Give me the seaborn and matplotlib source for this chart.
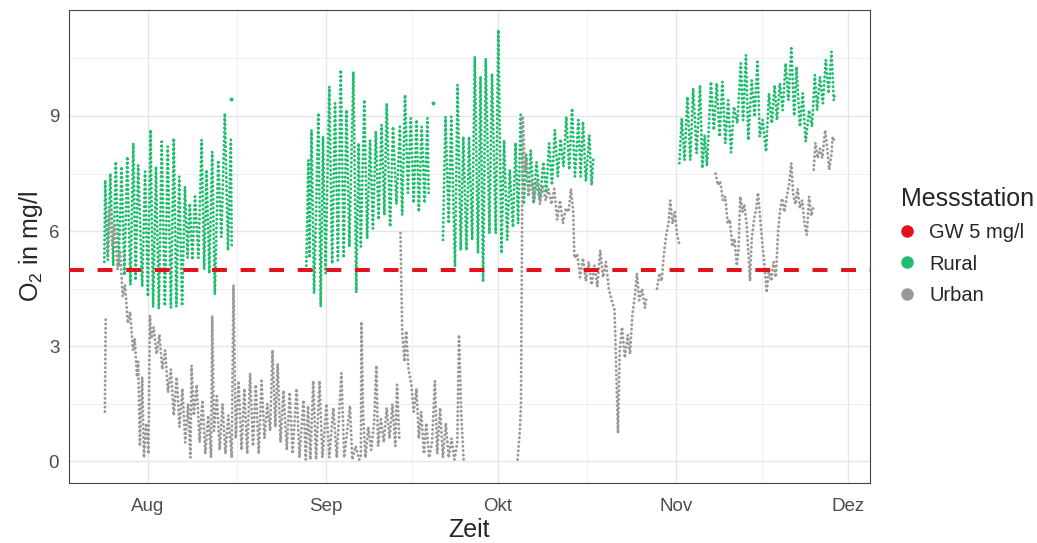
import numpy as np
import pandas as pd
import matplotlib
matplotlib.use('Agg')
from matplotlib import pyplot as plt
from matplotlib.lines import Line2D
import matplotlib.dates as mdates
import seaborn as sns

rural_aug = [(-7.6, 5.2), (-7.45, 7.33), (-7.0, 5.25), (-6.55, 7.5), (-6.05, 5.1), (-5.6, 7.81),
             (-5.1, 5.07), (-4.6, 7.68), (-4.1, 4.85), (-3.6, 7.94), (-3.05, 4.6), (-2.55, 8.29),
             (-2.15, 4.72), (-1.7, 7.72), (-1.0, 4.55), (-0.5, 7.55), (0.0, 4.3), (0.45, 8.64),
             (0.9, 4.02), (1.4, 7.68), (1.9, 3.98), (2.4, 8.33), (2.95, 4.05), (3.45, 8.2),
             (4.0, 4.0), (4.5, 8.42), (4.95, 4.03), (5.45, 7.42), (5.95, 4.05), (6.45, 7.16),
             (6.9, 5.3), (7.3, 6.72), (7.75, 5.25), (8.2, 6.9), (8.8, 5.3), (9.35, 8.38),
             (9.8, 5.0), (10.2, 7.6), (10.7, 4.9), (11.2, 8.07), (11.65, 4.35), (12.25, 7.85),
             (12.8, 5.85), (13.4, 9.07), (13.95, 5.5), (14.45, 8.38), (14.6, 5.6)]
rural_sep = [(27.6, 5.1), (27.95, 7.85), (28.15, 5.3), (28.5, 8.64), (28.95, 4.38), (29.7, 9.08),
             (30.1, 4.03), (30.5, 8.47), (30.95, 4.9), (31.6, 9.77), (32.1, 5.15), (32.6, 9.33),
             (33.1, 5.24), (33.6, 10.2), (34.1, 5.3), (34.6, 9.16), (35.1, 5.59), (35.8, 10.15),
             (36.3, 4.4), (36.7, 8.29), (37.1, 5.6), (37.7, 9.42), (38.2, 5.8), (38.7, 8.37),
             (39.2, 6.07), (39.7, 8.6), (40.2, 6.3), (40.7, 8.77), (41.2, 6.42), (41.6, 9.33),
             (42.2, 6.11), (42.7, 8.72), (43.3, 6.7), (43.9, 8.72), (44.3, 6.42), (44.8, 9.55),
             (45.3, 7.0), (45.8, 8.94), (46.3, 6.73), (46.8, 8.9), (47.2, 6.5), (47.7, 8.72),
             (48.2, 6.73), (48.7, 8.94), (48.9, 7.0)]
rural_okt = [(51.4, 5.77), (51.85, 8.98), (52.4, 6.2), (52.85, 8.98), (53.5, 5.07), (53.95, 9.81),
             (54.5, 5.5), (54.95, 8.46), (55.5, 5.5), (55.95, 8.46), (56.5, 5.77), (56.95, 10.55),
             (57.5, 5.42), (57.95, 10.03), (58.4, 4.68), (58.85, 10.5), (59.5, 5.94), (59.95, 10.1),
             (60.6, 5.94), (61.05, 11.24), (61.6, 5.42), (62.05, 8.37), (62.6, 5.77), (63.05, 7.6),
             (63.6, 6.1), (64.05, 8.3), (64.5, 6.2), (64.95, 9.03), (65.5, 6.7), (65.9, 8.0),
             (66.3, 6.9), (66.7, 8.11), (67.2, 6.72), (67.7, 7.8), (68.3, 6.8), (68.9, 7.8),
             (69.4, 7.0), (69.9, 8.29), (70.4, 7.2), (70.9, 8.64), (71.4, 7.42), (71.9, 8.4),
             (72.4, 7.68), (72.9, 8.98), (73.4, 7.6), (73.9, 9.2), (74.4, 7.42), (75.0, 8.9),
             (75.4, 7.42), (75.8, 8.85), (76.3, 7.3), (76.9, 8.5), (77.3, 7.2), (77.6, 7.9)]
rural_nov = [(92.6, 7.77), (93.0, 8.94), (93.5, 7.85), (94.0, 9.5), (94.5, 7.85), (95.0, 9.72),
             (95.6, 8.03), (96.2, 9.8), (96.6, 7.64), (97.0, 8.5), (97.4, 7.7), (98.1, 9.89),
             (98.6, 8.63), (99.1, 9.85), (99.6, 8.46), (100.1, 9.89), (100.6, 8.29), (101.1, 9.41),
             (101.6, 8.05), (102.1, 9.24), (102.7, 8.81), (103.3, 10.37), (103.7, 8.89), (104.2, 10.59),
             (104.6, 8.37), (105.2, 9.93), (105.7, 8.98), (106.2, 10.41), (106.6, 8.46), (107.1, 8.9),
             (107.7, 8.07), (108.2, 9.59), (108.7, 8.81), (109.2, 9.8), (109.6, 8.89), (110.1, 9.85),
             (110.6, 9.15), (111.1, 10.37), (111.6, 9.41), (112.1, 10.76), (112.6, 9.0), (113.0, 10.28),
             (113.6, 8.72), (114.1, 9.59), (114.6, 8.33), (115.2, 9.15), (115.7, 8.72), (116.2, 10.07),
             (116.6, 9.15), (117.1, 10.02), (117.6, 9.33), (118.1, 10.46), (118.6, 9.59), (119.1, 10.67),
             (119.5, 9.41), (119.7, 9.6)]
rural_einzel = [(14.55, 9.45), (49.7, 9.33)]

urban_jul = [(-7.5, 1.3), (-7.35, 3.8)]
urban_aug = [(-7.0, 5.4), (-6.7, 6.6), (-6.2, 5.6), (-5.75, 6.2), (-5.3, 5.0), (-4.85, 5.5),
             (-4.4, 4.3), (-4.0, 4.6), (-3.5, 3.6), (-3.1, 3.9), (-2.6, 2.9), (-2.3, 3.2),
             (-1.9, 2.2), (-1.7, 2.6), (-1.4, 0.4), (-1.0, 2.2), (-0.7, 0.1), (-0.3, 1.0),
             (0.1, 0.2), (0.35, 3.8), (0.6, 3.2), (1.0, 3.5), (1.5, 2.8), (2.0, 3.3),
             (2.5, 2.4), (3.0, 2.9), (3.5, 1.8), (4.0, 2.4), (4.5, 1.2), (5.0, 2.2),
             (5.5, 0.9), (6.0, 1.9), (6.5, 0.5), (7.0, 1.5), (7.4, 0.1), (7.6, 2.5),
             (8.0, 1.2), (8.5, 2.0), (9.0, 0.5), (9.5, 1.6), (10.0, 0.2), (10.5, 1.2),
             (11.0, 0.1), (11.2, 3.8), (11.5, 0.8), (12.0, 1.7), (12.5, 0.3), (13.0, 1.5),
             (13.5, 0.2), (14.0, 1.2), (14.6, 0.1), (14.9, 4.6), (15.3, 0.6), (15.8, 2.1),
             (16.3, 0.3), (16.8, 1.9), (17.3, 0.2), (17.8, 2.3), (18.3, 0.4), (18.8, 2.0),
             (19.3, 0.2), (19.8, 2.1), (20.3, 0.6), (20.8, 1.5), (21.3, 0.8), (21.7, 2.9),
             (22.2, 0.9), (22.6, 2.55), (23.1, 0.5), (23.6, 1.85), (24.2, 0.3), (24.7, 1.8),
             (25.2, 0.2), (25.9, 1.9), (26.4, 0.1), (27.1, 1.6), (27.5, 0.05), (27.9, 1.45),
             (28.3, 0.05), (28.8, 2.1), (29.3, 0.05), (29.9, 2.1), (30.4, 0.1), (31.1, 1.5),
             (31.6, 0.1), (32.3, 1.4), (32.9, 0.1), (33.7, 2.3), (34.2, 0.1), (35.2, 1.45),
             (35.6, 0.05), (36.2, 0.4), (36.8, 0.05), (37.1, 0.1), (37.2, 3.64), (37.5, 1.2),
             (37.9, 0.1), (38.4, 0.9), (38.9, 0.3), (39.4, 1.0), (39.8, 2.5), (40.1, 0.4),
             (40.6, 1.1), (41.1, 0.5), (41.6, 1.4), (42.1, 0.6), (42.6, 1.5), (43.1, 0.4),
             (43.4, 2.0), (43.8, 0.6)]
urban_sep = [(44.0, 5.95), (44.3, 3.4), (44.7, 2.6), (45.0, 3.4), (45.4, 2.4), (45.9, 2.0),
             (46.3, 1.3), (46.8, 1.9), (47.2, 0.6), (47.6, 1.3), (48.1, 0.2), (48.5, 1.0),
             (49.0, 0.1), (49.5, 0.5), (50.0, 2.1), (50.4, 0.2), (50.9, 1.4), (51.4, 0.1),
             (51.9, 1.0), (52.4, 0.1), (52.9, 0.6), (53.4, 0.05), (53.9, 0.5), (54.2, 3.3),
             (54.6, 1.2), (55.0, 0.05)]
urban_okt = [(64.4, 0.05), (64.8, 0.8), (65.0, 1.5), (65.3, 9.0), (65.7, 7.6), (66.0, 7.85),
             (66.3, 6.9), (66.8, 7.3), (67.3, 6.8), (67.8, 7.3), (68.3, 6.7), (68.8, 7.2),
             (69.3, 6.8), (69.8, 7.1), (70.3, 6.7), (70.8, 7.1), (71.3, 6.3), (71.8, 6.8),
             (72.3, 6.2), (72.8, 6.6), (73.3, 6.5), (73.7, 7.1), (74.1, 6.5), (74.3, 5.3),
             (74.8, 5.4), (75.3, 4.8), (75.8, 5.3), (76.3, 4.7), (76.8, 5.2), (77.3, 4.6),
             (77.8, 5.1), (78.3, 4.55), (78.8, 5.5), (79.3, 4.8), (79.8, 5.2), (80.3, 4.5),
             (80.8, 4.2), (81.3, 3.95), (81.9, 0.74), (82.2, 2.9), (82.6, 3.5), (83.1, 2.7),
             (83.6, 3.3), (84.0, 2.8), (84.4, 3.8), (84.9, 4.4), (85.2, 4.9), (85.6, 4.2),
             (86.1, 4.5), (86.6, 4.0), (86.9, 4.3)]
urban_okt_ende = [(88.7, 4.5), (89.1, 4.9), (89.5, 4.7), (89.9, 5.4), (90.3, 5.9), (90.7, 6.2),
                  (91.0, 6.8), (91.4, 6.2), (91.8, 6.5), (92.2, 5.9), (92.7, 5.6)]
urban_nov = [(98.9, 7.5), (99.3, 7.2), (99.7, 7.3), (100.2, 6.8), (100.6, 6.9), (101.0, 6.2),
             (101.4, 6.3), (101.8, 5.6), (102.2, 5.8), (102.6, 5.1), (102.9, 5.5), (103.2, 6.9),
             (103.6, 6.5), (103.9, 6.7), (104.3, 6.2), (104.6, 5.5), (104.9, 4.7), (105.2, 5.8),
             (105.6, 6.3), (106.0, 6.6), (106.3, 7.0), (106.7, 6.3), (107.1, 5.6), (107.5, 5.0),
             (107.8, 4.4), (108.2, 5.0), (108.6, 4.7), (109.0, 5.2), (109.4, 4.8), (109.8, 6.0),
             (110.2, 6.6), (110.5, 6.85), (110.9, 6.5), (111.3, 6.9), (111.7, 7.2), (112.1, 7.77),
             (112.4, 7.0), (112.8, 6.7), (113.2, 7.1), (113.6, 6.6), (114.0, 6.8), (114.4, 6.2),
             (114.8, 5.9), (115.2, 6.9), (115.6, 6.4), (115.9, 6.6)]
urban_nov_ende = [(116.0, 7.6), (116.3, 8.3), (116.7, 7.9), (117.1, 8.15), (117.5, 7.9), (118.0, 8.63),
                  (118.4, 8.1), (118.7, 7.6), (119.1, 8.0), (119.3, 8.46), (119.7, 8.3)]

grenzwert = 5
monate = ['Aug', 'Sep', 'Okt', 'Nov', 'Dez']
monat_start = ['2018-08-01', '2018-09-01', '2018-10-01', '2018-11-01', '2018-12-01']
y_ticks = [0, 3, 6, 9]
farben = {'GW 5 mg/l': '#e3131b', 'Rural': '#1fbe6e', 'Urban': '#999999'}

start = pd.Timestamp('2018-08-01')


def zu_df(station, seg, nr):
    tage, werte = zip(*seg)
    return pd.DataFrame({'zeit': start + pd.to_timedelta(list(tage), unit='D'),
                         'o2': list(werte), 'Messstation': station, 'abschnitt': nr})


segmente = [('Rural', rural_aug), ('Rural', rural_sep), ('Rural', rural_okt), ('Rural', rural_nov),
            ('Urban', urban_jul), ('Urban', urban_aug), ('Urban', urban_sep), ('Urban', urban_okt),
            ('Urban', urban_okt_ende), ('Urban', urban_nov), ('Urban', urban_nov_ende)]
df = pd.concat([zu_df(s, seg, i) for i, (s, seg) in enumerate(segmente)], ignore_index=True)
einzel = zu_df('Rural', rural_einzel, 99)

sns.set_style('white')
plt.rcParams['font.family'] = ['Liberation Sans', 'DejaVu Sans']

fig = plt.figure(figsize=(10.37, 5.43), dpi=100)
ax = fig.add_axes([0.0665, 0.1105, 0.7724, 0.8711])

sns.lineplot(data=df, x='zeit', y='o2', hue='Messstation', units='abschnitt', estimator=None,
             sort=False, hue_order=['Rural', 'Urban'], palette=farben, legend=False,
             lw=2.1, linestyle=(0, (0.05, 1.45)), dash_capstyle='round', ax=ax)
sns.scatterplot(data=einzel, x='zeit', y='o2', color=farben['Rural'], s=8, linewidth=0,
                legend=False, ax=ax)
ax.axhline(grenzwert, color=farben['GW 5 mg/l'], lw=2.9, linestyle=(0, (3.7, 3.4)), zorder=5)

# Achsen
ax.set_xlim(start + pd.Timedelta(days=-13.76), start + pd.Timedelta(days=125.8))
ax.set_ylim(-0.56, 11.76)
xt = pd.to_datetime(monat_start)
ax.set_xticks(xt)
ax.set_xticklabels(monate)
xn = mdates.date2num(xt)
ax.set_xticks((xn[:-1] + xn[1:]) / 2, minor=True)
ax.set_yticks(y_ticks)
ax.set_yticks([1.5, 4.5, 7.5, 10.5], minor=True)

ax.grid(which='major', color='#e6e6e6', lw=1.0)
ax.grid(which='minor', color='#ececec', lw=0.6)
ax.set_axisbelow(True)
for sp in ax.spines.values():
    sp.set_color('#444444')
    sp.set_linewidth(0.8)
ax.tick_params(which='major', length=3, width=0.8, color='#444444', labelsize=13.5,
               labelcolor='#4d4d4d', pad=4)
ax.tick_params(axis='x', which='major', pad=8)
ax.tick_params(which='minor', length=0)

ax.set_xlabel('Zeit', fontsize=18, labelpad=2)
ax.set_ylabel(r'O$_\mathregular{2}$ in mg/l', fontsize=18, labelpad=3)

handles = [Line2D([], [], marker='o', ls='', markersize=8, color=farben[k]) for k in farben]
fig.legend(handles, list(farben), title='Messstation', loc='upper left',
           bbox_to_anchor=(0.869, 0.655), frameon=False, fontsize=14.5, title_fontsize=18,
           alignment='left', handlelength=0.6, handletextpad=0.8, labelspacing=0.6,
           borderpad=0, borderaxespad=0)

fig.savefig('out.png', dpi=100)
